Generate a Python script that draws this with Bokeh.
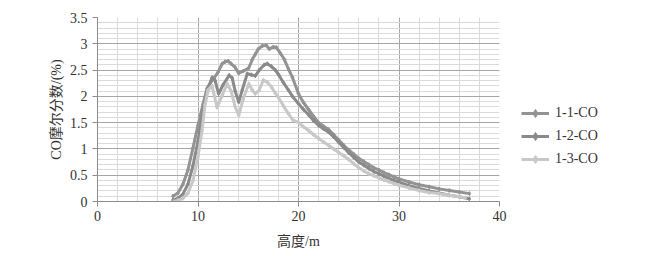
from bokeh.plotting import figure
from bokeh.models import Range1d, SingleIntervalTicker, Legend, LegendItem
from bokeh.embed import file_html
from bokeh.resources import INLINE

# ---- data ----
x_11 = [7.5, 8.0, 8.5, 9.0, 9.5, 10.0, 10.5, 10.9, 11.3, 11.6, 12.0, 12.4, 12.7, 13.0, 13.3, 13.7, 14.05,
        14.5, 15.05, 15.4, 15.7, 16.0, 16.4, 16.8, 17.1, 17.5, 17.8, 18.2, 18.6, 19.0, 19.4, 20.0, 20.5,
        21.0, 21.5, 22.0, 22.5, 23.0, 23.5, 24.0, 24.5, 25.0, 25.5, 26.0, 26.5, 27.0, 27.5, 28.0, 28.5,
        29.0, 29.5, 30.0, 31.0, 32.0, 33.0, 34.0, 35.0, 36.0, 37.0]
y_11 = [0.10, 0.16, 0.33, 0.60, 1.02, 1.45, 1.85, 2.15, 2.28, 2.35, 2.46, 2.62, 2.66, 2.67, 2.62, 2.55, 2.44,
        2.48, 2.54, 2.70, 2.80, 2.90, 2.96, 2.97, 2.90, 2.94, 2.93, 2.82, 2.70, 2.52, 2.36, 2.05, 1.88,
        1.75, 1.62, 1.50, 1.43, 1.37, 1.27, 1.17, 1.07, 0.98, 0.90, 0.82, 0.76, 0.70, 0.64, 0.60, 0.55,
        0.51, 0.47, 0.43, 0.37, 0.32, 0.28, 0.24, 0.21, 0.18, 0.15]

x_12 = [7.5, 8.0, 8.5, 9.0, 9.5, 10.0, 10.5, 11.0, 11.4, 11.7, 12.05, 12.5, 13.1, 13.4, 13.7, 14.05, 14.4,
        14.9, 15.3, 15.7, 16.1, 16.6, 16.9, 17.3, 17.7, 18.0, 18.5, 19.0, 19.4, 20.0, 20.5, 21.0, 21.5,
        22.0, 22.5, 23.0, 23.5, 24.0, 24.5, 25.0, 25.5, 26.0, 26.5, 27.0, 27.5, 28.0, 28.5, 29.0, 29.5,
        30.0, 31.0, 32.0, 33.0, 34.0, 35.0, 36.0, 37.0]
y_12 = [0.03, 0.06, 0.14, 0.33, 0.68, 1.15, 1.72, 2.15, 2.36, 2.30, 2.05, 2.22, 2.40, 2.35, 2.10, 1.89, 2.12,
        2.43, 2.41, 2.39, 2.50, 2.60, 2.62, 2.57, 2.50, 2.42, 2.26, 2.12, 2.00, 1.86, 1.75, 1.65, 1.54,
        1.45, 1.38, 1.32, 1.23, 1.13, 1.03, 0.93, 0.84, 0.75, 0.69, 0.63, 0.57, 0.53, 0.48, 0.44, 0.40,
        0.37, 0.30, 0.25, 0.20, 0.16, 0.12, 0.09, 0.05]

x_13 = [7.6, 8.0, 8.5, 9.0, 9.5, 10.0, 10.4, 10.7, 11.0, 11.4, 11.9, 12.4, 12.9, 13.3, 13.7, 14.05, 14.5,
        15.05, 15.4, 15.7, 16.1, 16.5, 16.9, 17.3, 17.7, 18.0, 18.5, 19.0, 19.4, 20.0, 20.5, 21.0, 21.5,
        22.0, 22.5, 23.0, 23.5, 24.0, 24.5, 25.0, 25.5, 26.0, 26.5, 27.0, 27.5, 28.0, 28.5, 29.0, 29.5,
        30.0, 31.0, 32.0, 33.0, 34.0, 35.0, 36.0, 36.6]
y_13 = [0.00, 0.02, 0.06, 0.16, 0.40, 0.85, 1.35, 1.85, 2.12, 2.20, 1.79, 2.02, 2.24, 2.10, 1.80, 1.64, 1.95,
        2.24, 2.12, 2.05, 2.12, 2.31, 2.27, 2.18, 2.06, 1.98, 1.82, 1.67, 1.56, 1.50, 1.42, 1.35, 1.27,
        1.20, 1.13, 1.07, 1.00, 0.93, 0.87, 0.80, 0.72, 0.64, 0.58, 0.53, 0.49, 0.45, 0.41, 0.38, 0.34,
        0.31, 0.26, 0.21, 0.17, 0.15, 0.12, 0.09, 0.07]

series_names = ["1-1-CO", "1-2-CO", "1-3-CO"]
series_colors = ["#939393", "#8a8a8a", "#c8c8c8"]
x_ticks_labels = ["0", "10", "20", "30", "40"]

FONT = "Liberation Serif, 'Times New Roman', 'Noto Sans CJK SC', serif"

p = figure(frame_width=402, frame_height=184, width=660, height=256,
           min_border_left=97, min_border_right=161, min_border_top=17, min_border_bottom=55,
           x_range=Range1d(0, 40), y_range=Range1d(0, 3.5),
           output_backend="svg", toolbar_location=None)
p.outline_line_color = None
p.background_fill_color = "white"
p.border_fill_color = "white"

p.xaxis.ticker = SingleIntervalTicker(interval=10, num_minor_ticks=5)
p.yaxis.ticker = SingleIntervalTicker(interval=0.5, num_minor_ticks=5)
p.xaxis.major_label_overrides = {i * 10: t for i, t in enumerate(x_ticks_labels)}
p.yaxis.major_label_overrides = {0: "0", 1: "1", 2: "2", 3: "3"}

for ax in (p.xaxis[0], p.yaxis[0]):
    ax.axis_line_color = "#8c8c8c"
    ax.major_tick_line_color = "#8c8c8c"
    ax.major_tick_out = 5
    ax.major_tick_in = 0
    ax.minor_tick_line_color = None
    ax.major_label_text_font = FONT
    ax.major_label_text_font_size = "14px"
    ax.major_label_text_color = "#333333"
    ax.axis_label_text_font = FONT
    ax.axis_label_text_font_size = "14px"
    ax.axis_label_text_font_style = "normal"
    ax.axis_label_text_color = "#333333"

p.xaxis.major_label_standoff = 4
p.yaxis.major_label_standoff = 5
p.xaxis.axis_label = "高度/m"
p.xaxis.axis_label_standoff = 10
p.yaxis.axis_label = "CO摩尔分数/(%)"
p.yaxis.axis_label_standoff = 3

for g in (p.xgrid[0], p.ygrid[0]):
    g.grid_line_color = "#a6a6a6"
    g.grid_line_width = 1
    g.minor_grid_line_color = "#dadada"
    g.minor_grid_line_width = 1

items = []
for xs, ys, name, col in zip([x_11, x_12, x_13], [y_11, y_12, y_13], series_names, series_colors):
    r1 = p.line(xs, ys, line_color=col, line_width=3)
    r2 = p.scatter(xs, ys, marker="diamond", size=4, fill_color=col, line_color=col)
    items.append(LegendItem(label=name, renderers=[r1, r2]))

legend = Legend(items=items, location=(22, 32), orientation="vertical",
                glyph_width=28, glyph_height=20, label_height=20, spacing=3,
                label_standoff=6, padding=0, margin=0,
                border_line_color=None, background_fill_alpha=0,
                label_text_font=FONT, label_text_font_size="14px", label_text_color="#333333")
p.add_layout(legend, "right")

open("out.html", "w").write(file_html(p, INLINE))
